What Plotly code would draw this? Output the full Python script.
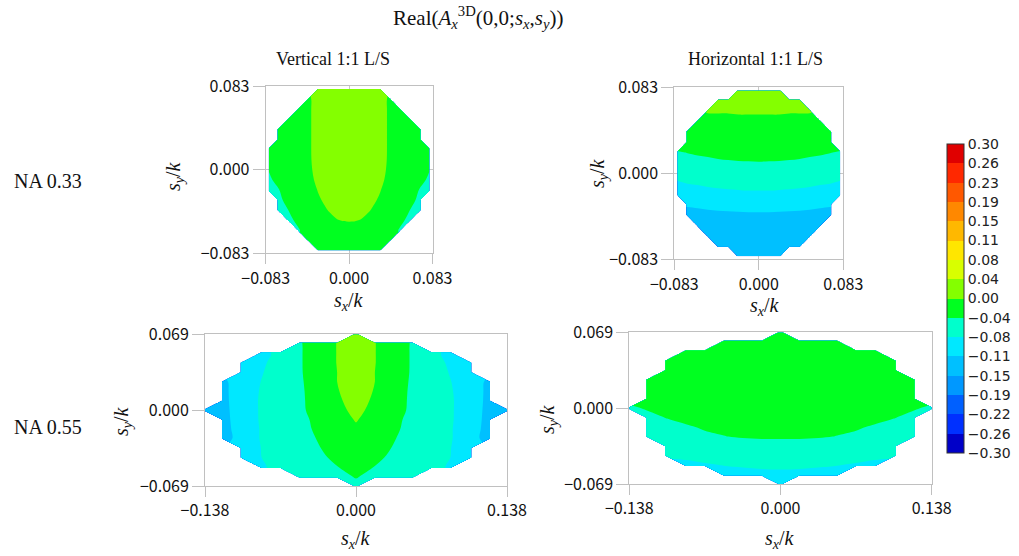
import plotly.graph_objects as go

N = None

# ---------------- data ----------------
TOP_X = [-0.08, -0.07, -0.06, -0.05, -0.04, -0.03, -0.02, -0.01, 0.0,
         0.01, 0.02, 0.03, 0.04, 0.05, 0.06, 0.07, 0.08]
TOP_Y = [-0.08, -0.07, -0.06, -0.05, -0.04, -0.03, -0.02, -0.01, 0.0,
         0.01, 0.02, 0.03, 0.04, 0.05, 0.06, 0.07, 0.08]
BOT_X = [-0.138, -0.12075, -0.1035, -0.08625, -0.069, -0.05175, -0.0345, -0.01725, 0.0,
         0.01725, 0.0345, 0.05175, 0.069, 0.08625, 0.1035, 0.12075, 0.138]
BOT_Y = [-0.069, -0.060375, -0.05175, -0.043125, -0.0345, -0.025875, -0.01725, -0.008625, 0.0,
         0.008625, 0.01725, 0.025875, 0.0345, 0.043125, 0.05175, 0.060375, 0.069]

# rows listed from top (largest s_y) to bottom
VERT_033 = [
    [N, N, N, N, N, .010, .019, .025, .026, .025, .019, .010, N, N, N, N, N],
    [N, N, N, N, -.003, .010, .019, .025, .026, .025, .019, .010, -.003, N, N, N, N],
    [N, N, N, -.011, -.003, .010, .019, .025, .026, .025, .019, .010, -.003, -.011, N, N, N],
    [N, N, -.018, -.011, -.003, .010, .019, .025, .026, .025, .019, .010, -.003, -.011, -.018, N, N],
    [N, -.024, -.018, -.011, -.003, .010, .019, .025, .026, .025, .019, .010, -.003, -.011, -.018, -.024, N],
    [N, -.025, -.019, -.012, -.003, .010, .019, .025, .026, .025, .019, .010, -.003, -.012, -.019, -.025, N],
    [-.030, -.026, -.020, -.012, -.003, .010, .018, .024, .025, .024, .018, .010, -.003, -.012, -.020, -.026, -.030],
    [-.033, -.028, -.021, -.013, -.003, .009, .017, .023, .024, .023, .017, .009, -.003, -.013, -.021, -.028, -.033],
    [-.037, -.030, -.023, -.014, -.004, .008, .016, .021, .022, .021, .016, .008, -.004, -.014, -.023, -.030, -.037],
    [-.040, -.033, -.025, -.016, -.006, .006, .014, .019, .020, .019, .014, .006, -.006, -.016, -.025, -.033, -.040],
    [-.045, -.038, -.029, -.019, -.009, .002, .010, .015, .016, .015, .010, .002, -.009, -.019, -.029, -.038, -.045],
    [N, -.041, -.032, -.022, -.012, -.002, .006, .011, .012, .011, .006, -.002, -.012, -.022, -.032, -.041, N],
    [N, -.046, -.037, -.026, -.015, -.006, .001, .006, .007, .006, .001, -.006, -.015, -.026, -.037, -.046, N],
    [N, N, -.043, -.031, -.019, -.011, -.005, .000, .001, .000, -.005, -.011, -.019, -.031, -.043, N, N],
    [N, N, N, -.039, -.024, -.016, -.010, -.006, -.005, -.006, -.010, -.016, -.024, -.039, N, N, N],
    [N, N, N, N, -.033, -.021, -.015, -.011, -.010, -.011, -.015, -.021, -.033, N, N, N, N],
    [N, N, N, N, N, -.025, -.020, -.017, -.016, -.017, -.020, -.025, N, N, N, N, N],
]

HORIZ_033 = [
    [N, N, N, N, N, N, .019, .019, .019, .019, .019, N, N, N, N, N, N],
    [N, N, N, N, .010, .011, .011, .011, .011, .011, .011, .011, .010, N, N, N, N],
    [N, N, N, .002, .002, .002, .003, .003, .003, .003, .003, .002, .002, .002, N, N, N],
    [N, N, -.009, -.008, -.007, -.007, -.006, -.006, -.006, -.006, -.006, -.007, -.007, -.008, -.009, N, N],
    [N, -.018, -.017, -.016, -.015, -.015, -.014, -.014, -.014, -.014, -.014, -.015, -.015, -.016, -.017, -.018, N],
    [N, -.027, -.026, -.025, -.024, -.023, -.022, -.022, -.022, -.022, -.022, -.023, -.024, -.025, -.026, -.027, N],
    [-.039, -.037, -.035, -.034, -.032, -.031, -.031, -.030, -.030, -.030, -.031, -.031, -.032, -.034, -.035, -.037, -.039],
    [-.049, -.046, -.044, -.042, -.041, -.040, -.039, -.039, -.0385, -.039, -.039, -.040, -.041, -.042, -.044, -.046, -.049],
    [-.065, -.062, -.059, -.057, -.055, -.054, -.053, -.052, -.052, -.052, -.053, -.054, -.055, -.057, -.059, -.062, -.065],
    [-.079, -.075, -.073, -.070, -.068, -.067, -.066, -.065, -.065, -.065, -.066, -.067, -.068, -.070, -.073, -.075, -.079],
    [-.095, -.091, -.088, -.086, -.084, -.082, -.081, -.080, -.080, -.080, -.081, -.082, -.084, -.086, -.088, -.091, -.095],
    [N, -.108, -.106, -.103, -.101, -.100, -.099, -.098, -.098, -.098, -.099, -.100, -.101, -.103, -.106, -.108, N],
    [N, -.126, -.123, -.121, -.120, -.119, -.118, -.117, -.117, -.117, -.118, -.119, -.120, -.121, -.123, -.126, N],
    [N, N, -.132, -.131, -.129, -.128, -.128, -.127, -.127, -.127, -.128, -.128, -.129, -.131, -.132, N, N],
    [N, N, N, -.137, -.136, -.135, -.134, -.134, -.134, -.134, -.134, -.135, -.136, -.137, N, N, N],
    [N, N, N, N, -.140, -.140, -.139, -.139, -.139, -.139, -.139, -.140, -.140, N, N, N, N],
    [N, N, N, N, N, N, -.142, -.142, -.142, -.142, -.142, N, N, N, N, N, N],
]

VERT_055 = [
    [N, N, N, N, N, N, N, N, .020, N, N, N, N, N, N, N, N],
    [N, N, N, N, N, -.041, -.019, .001, .019, .001, -.019, -.041, N, N, N, N, N],
    [N, N, N, -.083, -.067, -.041, -.020, .001, .018, .001, -.020, -.041, -.067, -.083, N, N, N],
    [N, N, -.094, -.080, -.062, -.041, -.020, .001, .018, .001, -.020, -.041, -.062, -.080, -.094, N, N],
    [N, N, -.093, -.077, -.059, -.041, -.021, .000, .0175, .000, -.021, -.041, -.059, -.077, -.093, N, N],
    [N, -.118, -.093, -.074, -.058, -.042, -.022, .000, .017, .000, -.022, -.042, -.058, -.074, -.093, -.118, N],
    [N, -.119, -.093, -.072, -.057, -.043, -.023, -.002, .015, -.002, -.023, -.043, -.057, -.072, -.093, -.119, N],
    [N, -.120, -.092, -.071, -.057, -.043, -.025, -.005, .012, -.005, -.025, -.043, -.057, -.071, -.092, -.120, N],
    [-.130, -.121, -.093, -.071, -.057, -.043, -.027, -.009, .008, -.009, -.027, -.043, -.057, -.071, -.093, -.121, -.130],
    [N, -.122, -.094, -.071, -.058, -.045, -.031, -.014, .002, -.014, -.031, -.045, -.058, -.071, -.094, -.122, N],
    [N, -.123, -.096, -.072, -.059, -.046, -.033, -.019, -.005, -.019, -.033, -.046, -.059, -.072, -.096, -.123, N],
    [N, -.125, -.097, -.072, -.060, -.048, -.036, -.023, -.011, -.023, -.036, -.048, -.060, -.072, -.097, -.125, N],
    [N, N, -.099, -.074, -.062, -.051, -.039, -.028, -.018, -.028, -.039, -.051, -.062, -.074, -.099, N, N],
    [N, N, -.101, -.075, -.064, -.053, -.042, -.033, -.024, -.033, -.042, -.053, -.064, -.075, -.101, N, N],
    [N, N, N, -.078, -.067, -.057, -.047, -.038, -.031, -.038, -.047, -.057, -.067, -.078, N, N, N],
    [N, N, N, N, N, -.060, -.052, -.044, -.036, -.044, -.052, -.060, N, N, N, N, N],
    [N, N, N, N, N, N, N, N, -.043, N, N, N, N, N, N, N, N],
]

HORIZ_055 = [
    [N, N, N, N, N, N, N, N, -.004, N, N, N, N, N, N, N, N],
    [N, N, N, N, N, -.007, -.006, -.005, -.005, -.005, -.006, -.007, N, N, N, N, N],
    [N, N, N, -.012, -.010, -.008, -.007, -.006, -.006, -.006, -.007, -.008, -.010, -.012, N, N, N],
    [N, N, -.016, -.014, -.012, -.010, -.009, -.008, -.008, -.008, -.009, -.010, -.012, -.014, -.016, N, N],
    [N, N, -.018, -.016, -.014, -.012, -.011, -.010, -.010, -.010, -.011, -.012, -.014, -.016, -.018, N, N],
    [N, -.023, -.020, -.018, -.016, -.014, -.013, -.012, -.012, -.012, -.013, -.014, -.016, -.018, -.020, -.023, N],
    [N, -.026, -.023, -.021, -.019, -.017, -.016, -.015, -.015, -.015, -.016, -.017, -.019, -.021, -.023, -.026, N],
    [N, -.031, -.028, -.025, -.023, -.021, -.020, -.019, -.019, -.019, -.020, -.021, -.023, -.025, -.028, -.031, N],
    [-.040, -.036, -.033, -.030, -.027, -.025, -.024, -.023, -.023, -.023, -.024, -.025, -.027, -.030, -.033, -.036, -.040],
    [N, -.041, -.037, -.034, -.032, -.030, -.028, -.027, -.027, -.027, -.028, -.030, -.032, -.034, -.037, -.041, N],
    [N, -.046, -.042, -.039, -.036, -.034, -.033, -.032, -.0315, -.032, -.033, -.034, -.036, -.039, -.042, -.046, N],
    [N, -.051, -.047, -.043, -.040, -.038, -.036, -.035, -.035, -.035, -.036, -.038, -.040, -.043, -.047, -.051, N],
    [N, N, -.058, -.054, -.050, -.048, -.046, -.045, -.0445, -.045, -.046, -.048, -.050, -.054, -.058, N, N],
    [N, N, -.074, -.069, -.064, -.061, -.058, -.057, -.056, -.057, -.058, -.061, -.064, -.069, -.074, N, N],
    [N, N, N, -.082, -.078, -.074, -.072, -.070, -.0695, -.070, -.072, -.074, -.078, -.082, N, N, N],
    [N, N, N, N, N, -.086, -.083, -.082, -.081, -.082, -.083, -.086, N, N, N, N, N],
    [N, N, N, N, N, N, N, N, -.090, N, N, N, N, N, N, N, N],
]

LEVELS = [-0.30, -0.2625, -0.225, -0.1875, -0.15, -0.1125, -0.075, -0.0375, 0.0,
          0.0375, 0.075, 0.1125, 0.15, 0.1875, 0.225, 0.2625, 0.30]
LEVEL_TEXT = ["\u22120.30", "\u22120.26", "\u22120.22", "\u22120.19", "\u22120.15", "\u22120.11",
              "\u22120.08", "\u22120.04", "0.00", "0.04", "0.08", "0.11", "0.15", "0.19",
              "0.23", "0.26", "0.30"]
BAND_COLORS = ["#0000C8", "#0030FF", "#0060FF", "#0098FF", "#00C0FF", "#00E8FF",
               "#00FFCC", "#00FF20", "#84FF00", "#D8FF00", "#FFE600", "#FFB800",
               "#FF8800", "#FF5800", "#FF2800", "#E00000"]

TOP_TICKS = [-0.083, 0.0, 0.083]
TOP_TICKTEXT = ["\u22120.083", "0.000", "0.083"]
BOT_XTICKS = [-0.138, 0.0, 0.138]
BOT_XTICKTEXT = ["\u22120.138", "0.000", "0.138"]
BOT_YTICKS = [-0.069, 0.0, 0.069]
BOT_YTICKTEXT = ["\u22120.069", "0.000", "0.069"]

TITLE = "Real(<i>A</i><sub><i>x</i></sub><sup>3D</sup>(0,0;<i>s</i><sub><i>x</i></sub>,<i>s</i><sub><i>y</i></sub>))"
COL_TITLES = ["Vertical 1:1 L/S", "Horizontal 1:1 L/S"]
ROW_TITLES = ["NA 0.33", "NA 0.55"]
XTITLE = "<i>s</i><sub><i>x</i></sub>/<i>k</i>"
YTITLE = "<i>s</i><sub><i>y</i></sub>/<i>k</i>"

# ---------------- figure ----------------
W, H = 1019, 556
colorscale = []
for k, c in enumerate(BAND_COLORS):
    colorscale.append([k / len(BAND_COLORS), c])
    colorscale.append([(k + 1) / len(BAND_COLORS), c])

fig = go.Figure()

panels = [
    (VERT_033, TOP_X, TOP_Y, "x", "y"),
    (HORIZ_033, TOP_X, TOP_Y, "x2", "y2"),
    (VERT_055, BOT_X, BOT_Y, "x3", "y3"),
    (HORIZ_055, BOT_X, BOT_Y, "x4", "y4"),
]
for n, (rows, xs, ys, xa, ya) in enumerate(panels):
    fig.add_trace(go.Contour(
        z=rows[::-1], x=xs, y=ys, xaxis=xa, yaxis=ya,
        contours=dict(start=LEVELS[0], end=LEVELS[-1], size=LEVELS[1] - LEVELS[0],
                      coloring="fill", showlines=False),
        line=dict(width=0),
        colorscale=colorscale, zmin=LEVELS[0], zmax=LEVELS[-1],
        connectgaps=False, hoverinfo="skip",
        showscale=(n == 0),
        colorbar=dict(
            x=947 / W, xanchor="left", y=1 - 298.5 / H, yanchor="middle",
            len=309 / H, lenmode="fraction", thickness=17, thicknessmode="pixels",
            xpad=0, ypad=0, outlinewidth=1, outlinecolor="#333333",
            tickvals=LEVELS, ticktext=LEVEL_TEXT, ticks="",
            tickfont=dict(family="DejaVu Sans", size=14, color="#222222"),
        ),
    ))

def px_dom(a, b, total, flip=False):
    if flip:
        return [1 - b / total, 1 - a / total]
    return [a / total, b / total]

axis_common = dict(
    showgrid=True, gridcolor="#c8c8c8", gridwidth=1,
    showline=True, mirror=True, linecolor="#c0c0c0", linewidth=1,
    ticks="outside", tickcolor="#c0c0c0", zeroline=False, automargin=False,
    tickfont=dict(family="Noto Sans CJK JP", size=16, color="#111111"),
    fixedrange=True,
)

boxes = [
    ((265.7, 432.5), (86.0, 253.3), TOP_TICKS, TOP_TICKTEXT, TOP_TICKS, TOP_TICKTEXT, 0.083, 0.083),
    ((674.3, 843.3), (87.3, 259.3), TOP_TICKS, TOP_TICKTEXT, TOP_TICKS, TOP_TICKTEXT, 0.083, 0.083),
    ((205.0, 507.0), (334.3, 486.0), BOT_XTICKS, BOT_XTICKTEXT, BOT_YTICKS, BOT_YTICKTEXT, 0.138, 0.069),
    ((629.3, 931.7), (332.3, 484.0), BOT_XTICKS, BOT_XTICKTEXT, BOT_YTICKS, BOT_YTICKTEXT, 0.138, 0.069),
]
layout_axes = {}
for n, ((x0, x1), (y0, y1), xt, xtt, yt, ytt, xr, yr) in enumerate(boxes):
    sfx = "" if n == 0 else str(n + 1)
    layout_axes["xaxis" + sfx] = dict(
        domain=px_dom(x0, x1, W), anchor="y" + sfx, range=[-xr, xr],
        tickvals=xt, ticktext=xtt, ticklen=10, **axis_common)
    layout_axes["yaxis" + sfx] = dict(
        domain=px_dom(y0, y1, H, flip=True), anchor="x" + sfx, range=[-yr, yr],
        tickvals=yt, ticktext=ytt, ticklen=12, **axis_common)

serif = "Liberation Serif"
ann = []
def add_text(text, xpx, ypx, size, angle=0, xanchor="center", family=serif):
    ann.append(dict(text=text, x=xpx / W, y=1 - ypx / H, xref="paper", yref="paper",
                    showarrow=False, xanchor=xanchor, yanchor="middle", textangle=angle,
                    font=dict(family=family, size=size, color="#111111")))

add_text(TITLE, 478, 17, 21)
add_text(COL_TITLES[0], 333, 59, 18)
add_text(COL_TITLES[1], 755, 59, 18)
add_text(ROW_TITLES[0], 12, 181, 20, xanchor="left")
add_text(ROW_TITLES[1], 12, 427, 20, xanchor="left")
# axis titles
for (xc, yc) in [(349, 301), (765, 306), (356, 539), (780, 539)]:
    add_text(XTITLE, xc, yc, 20)
for (xc, yc) in [(174, 176), (598, 173), (122, 421), (548, 419)]:
    add_text(YTITLE, xc, yc, 20, angle=-90)

fig.update_layout(
    width=W, height=H, margin=dict(l=0, r=0, t=0, b=0, autoexpand=False),
    paper_bgcolor="white", plot_bgcolor="white",
    showlegend=False, annotations=ann, **layout_axes,
)

fig.write_html(
    "out.html",
    config={"displayModeBar": False},
    post_script="document.body.style.margin='0px';document.body.style.overflow='hidden';",
)
